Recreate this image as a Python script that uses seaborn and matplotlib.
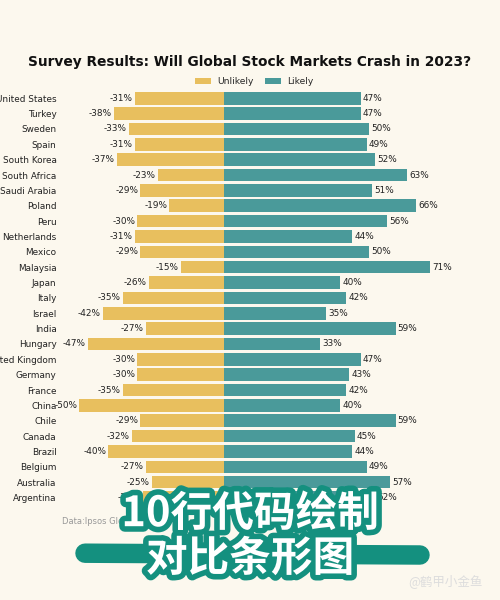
import matplotlib
matplotlib.use("Agg")
import matplotlib.pyplot as plt
import matplotlib.patheffects as pe
from matplotlib.lines import Line2D
import seaborn as sns
import pandas as pd

countries = ["United States", "Turkey", "Sweden", "Spain", "South Korea", "South Africa",
             "Saudi Arabia", "Poland", "Peru", "Netherlands", "Mexico", "Malaysia", "Japan",
             "Italy", "Israel", "India", "Hungary", "United Kingdom", "Germany", "France",
             "China", "Chile", "Canada", "Brazil", "Belgium", "Australia", "Argentina"]
unlikely = [-31, -38, -33, -31, -37, -23, -29, -19, -30, -31, -29, -15, -26,
            -35, -42, -27, -47, -30, -30, -35, -50, -29, -32, -40, -27, -25, -28]
likely = [47, 47, 50, 49, 52, 63, 51, 66, 56, 44, 50, 71, 40,
          42, 35, 59, 33, 47, 43, 42, 40, 59, 45, 44, 49, 57, 52]
series = ["Unlikely", "Likely"]
colors = ["#E8BF5E", "#4A9A9A"]
title = "Survey Results: Will Global Stock Markets Crash in 2023?"
source = "Data:Ipsos Global Advisor Survey"

bg = "#FCF8EE"
df = pd.DataFrame({
    "Country": countries * 2,
    "Value": unlikely + likely,
    "Response": [series[0]] * len(countries) + [series[1]] * len(countries),
})

sns.set_theme(style="white")
plt.rcParams['font.family'] = ['DejaVu Sans', 'Noto Sans CJK SC']

fig = plt.figure(figsize=(5, 6), dpi=100, facecolor=bg)
ax = fig.add_axes([0.124, 0.158, 0.818, 0.691])
ax.set_facecolor(bg)

sns.barplot(data=df, y="Country", x="Value", hue="Response", hue_order=series,
            palette=colors, dodge=False, orient="h", width=0.82, ax=ax,
            saturation=1, order=countries, linewidth=0)

for cont in ax.containers:
    ax.bar_label(cont, labels=[f"{int(round(v))}%" for v in cont.datavalues],
                 padding=1.5, fontsize=6.4, color="#222222")

ax.set_xlim(-56, 85)
ax.set_xlabel("")
ax.set_ylabel("")
ax.set_xticks([])
ax.tick_params(axis="y", length=0, labelsize=6.4, pad=4, colors="#222222")
for s in ax.spines.values():
    s.set_visible(False)

ax.legend(loc="lower center", bbox_to_anchor=(0.47, 1.0), ncol=2, frameon=False,
          fontsize=6.6, handlelength=1.7, handleheight=0.6, columnspacing=1.3,
          handletextpad=0.7, borderaxespad=0.1)

fig.text(0.5, 0.897, title, ha="center", va="center", fontsize=9.9,
         fontweight="bold", color="#111111")
fig.text(0.124, 0.13, source, ha="left", va="center", fontsize=6, color="#999999")

# overlay decoration
teal = "#14907F"
fig.add_artist(Line2D([0.17, 0.84], [0.078, 0.075], transform=fig.transFigure,
                      color=teal, linewidth=14, solid_capstyle="round", zorder=5))
fx = [pe.Stroke(linewidth=8, foreground=teal), pe.Normal()]
fig.text(0.5, 0.143, "10行代码绘制", ha="center", va="center", fontsize=30,
         fontweight="heavy", color="white", family=['Noto Sans CJK SC', 'DejaVu Sans'],
         path_effects=fx, zorder=6)
fig.text(0.5, 0.068, "对比条形图", ha="center", va="center", fontsize=30,
         fontweight="heavy", color="white", family=['Noto Sans CJK SC', 'DejaVu Sans'],
         path_effects=fx, zorder=7)
fig.text(0.89, 0.032, "@鹤甲小金鱼", ha="center", va="center", fontsize=9,
         color="#DDDDDD", family=['Noto Sans CJK SC', 'DejaVu Sans'], zorder=7)

fig.savefig("out.png", dpi=100, facecolor=bg)
